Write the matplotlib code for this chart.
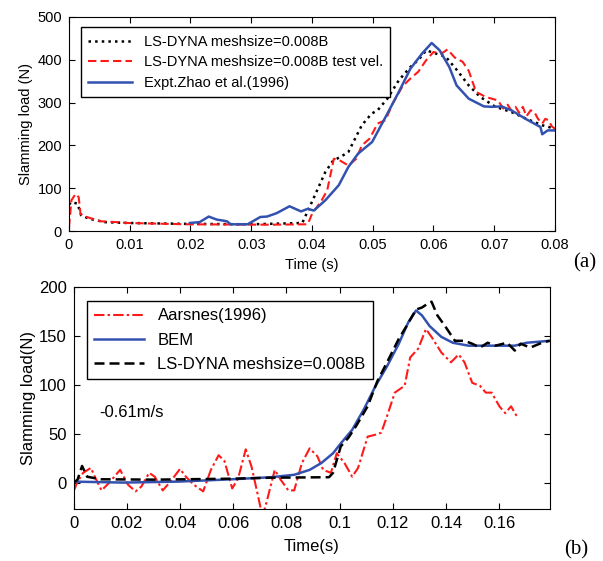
import matplotlib
matplotlib.use("Agg")
import matplotlib.pyplot as plt

plt.rcParams["font.family"] = ["Liberation Sans", "DejaVu Sans"]

# (a) slamming load, Zhao et al. wedge
t_expt = [0.0199, 0.0215, 0.0230, 0.0243, 0.0260, 0.0266, 0.0294, 0.0315, 0.0326, 0.0342,
          0.0363, 0.0382, 0.0393, 0.0403, 0.0422, 0.0444, 0.0460, 0.0476, 0.0499, 0.0524,
          0.0543, 0.0562, 0.0581, 0.0597, 0.0610, 0.0626, 0.0638, 0.0658, 0.0683, 0.0696,
          0.0712, 0.0728, 0.0754, 0.0776, 0.0779, 0.0788, 0.0800]
f_expt = [19, 21, 34, 27, 23, 16, 16, 33, 34, 42,
          58, 46, 52, 48, 72, 107, 150, 181, 208, 274,
          325, 379, 414, 439, 422, 383, 340, 309, 291, 290,
          291, 282, 260, 243, 226, 235, 235]

t_dyna = [0.0, 0.0004, 0.0014, 0.0020, 0.0033, 0.0059, 0.0097, 0.0193, 0.0301, 0.0384,
          0.0396, 0.0422, 0.0435, 0.0447, 0.0460, 0.0482, 0.0498, 0.0508, 0.0524, 0.0543,
          0.0562, 0.0575, 0.0588, 0.0600, 0.0620, 0.0639, 0.0658, 0.0677, 0.0702, 0.0728,
          0.0753, 0.0779, 0.0800]
f_dyna = [62, 68, 64, 37, 29, 21, 19, 17, 16, 19,
          56, 138, 165, 173, 185, 247, 274, 282, 309, 352,
          383, 399, 422, 416, 407, 375, 340, 313, 290, 278,
          262, 247, 239]

t_vel = [0.0, 0.0004, 0.0011, 0.0016, 0.0019, 0.0027, 0.0052, 0.0078, 0.0097, 0.0193,
         0.0333, 0.0393, 0.0400, 0.0416, 0.0425, 0.0436, 0.0447, 0.0460, 0.0473, 0.0482,
         0.0495, 0.0508, 0.0521, 0.0533, 0.0549, 0.0562, 0.0575, 0.0588, 0.0600, 0.0613,
         0.0623, 0.0635, 0.0648, 0.0658, 0.0670, 0.0686, 0.0696, 0.0706, 0.0715, 0.0722,
         0.0728, 0.0735, 0.0741, 0.0747, 0.0753, 0.0760, 0.0766, 0.0772, 0.0779, 0.0784,
         0.0789, 0.0795, 0.0800]
f_vel = [9, 72, 87, 79, 40, 34, 23, 21, 19, 16,
         15, 16, 40, 72, 95, 169, 164, 153, 169, 200,
         216, 251, 259, 298, 338, 356, 372, 399, 418, 414,
         424, 405, 395, 374, 325, 313, 309, 305, 286, 295,
         282, 290, 276, 290, 268, 282, 278, 262, 251, 262,
         259, 244, 239]

# (b) slamming load at -0.61 m/s
t_aar = [0.0, 0.0015, 0.0036, 0.0065, 0.0080, 0.0105, 0.0131, 0.0175, 0.0204, 0.0233,
         0.0255, 0.0284, 0.0305, 0.0335, 0.0364, 0.0400, 0.0422, 0.0451, 0.0487, 0.0516,
         0.0545, 0.0567, 0.0596, 0.0618, 0.0647, 0.0669, 0.0691, 0.0710, 0.0727, 0.0756,
         0.0778, 0.0807, 0.0829, 0.0858, 0.0887, 0.0916, 0.0938, 0.0967, 0.0989, 0.1018,
         0.1047, 0.1069, 0.1105, 0.1135, 0.1156, 0.1178, 0.1207, 0.1244, 0.1265, 0.1295,
         0.1324, 0.1345, 0.1382, 0.1418, 0.1447, 0.1469, 0.1498, 0.1527, 0.1549, 0.1571,
         0.1600, 0.1622, 0.1644, 0.1665]
f_aar = [-9, 1, 10, 15, 6, -8, -1, 13, -2, -9,
         -4, 10, 6, -8, 1, 14, 6, -2, -9, 13,
         28, 22, -6, 4, 34, 16, -11, -35, -18, 13,
         3, -8, -8, 20, 35, 27, 13, 10, 30, 20,
         6, 15, 47, 49, 51, 68, 92, 99, 128, 137,
         157, 149, 133, 123, 131, 123, 102, 99, 92, 92,
         78, 71, 78, 68]

t_bem = [0.0, 0.0189, 0.0393, 0.0596, 0.0742, 0.0829, 0.0887, 0.0931, 0.0975, 0.1004,
         0.1047, 0.1091, 0.1135, 0.1178, 0.1222, 0.1258, 0.1287, 0.1309, 0.1338, 0.1382,
         0.1425, 0.1484, 0.1585, 0.1658, 0.1702, 0.1789]
f_bem = [1, 0, 1, 3.4, 5.5, 8, 13, 20, 30, 40,
         54, 75, 99, 119, 142, 164, 176, 171, 160, 149,
         143, 140, 140, 140, 143, 145]

t_ls = [0.0, 0.0015, 0.0032, 0.0051, 0.0102, 0.0305, 0.0596, 0.0742, 0.0960, 0.0975,
        0.1004, 0.1033, 0.1062, 0.1105, 0.1142, 0.1178, 0.1222, 0.1251, 0.1287, 0.1309,
        0.1331, 0.1345, 0.1367, 0.1396, 0.1433, 0.1469, 0.1498, 0.1527, 0.1556, 0.1585,
        0.1629, 0.1658, 0.1680, 0.1716, 0.1760, 0.1789]
f_ls = [0, 3, 17, 6, 3.4, 3, 4, 5, 5.5, 10,
        37, 46, 58, 78, 104, 123, 147, 160, 177, 179,
        183, 185, 171, 160, 145, 145, 142, 138, 143, 140,
        143, 135, 142, 138, 143, 145]

blue = "#3352b0"
red = "#ff1a1a"

fig = plt.figure(figsize=(6.03, 5.61), dpi=100)

# ---- (a)
ax1 = fig.add_axes([0.1144, 0.588, 0.806, 0.382])
ax1.plot(t_dyna, f_dyna, color="black", linestyle=":", lw=1.8, label="LS-DYNA meshsize=0.008B")
ax1.plot(t_vel, f_vel, color=red, linestyle=(0, (4, 2)), lw=1.5, label="LS-DYNA meshsize=0.008B test vel.")
ax1.plot(t_expt, f_expt, color=blue, lw=1.8, label="Expt.Zhao et al.(1996)")
ax1.set_xlim(0, 0.08)
ax1.set_ylim(0, 500)
ax1.set_xticks([0, 0.01, 0.02, 0.03, 0.04, 0.05, 0.06, 0.07, 0.08])
ax1.set_xticklabels(["0", "0.01", "0.02", "0.03", "0.04", "0.05", "0.06", "0.07", "0.08"])
ax1.set_yticks([0, 100, 200, 300, 400, 500])
ax1.tick_params(direction="in", top=True, right=True, labelsize=10.5, length=4, pad=5)
ax1.set_xlabel("Time (s)", fontsize=10.5, labelpad=4)
ax1.set_ylabel("Slamming load (N)", fontsize=10.5, labelpad=3)
leg1 = ax1.legend(loc="upper left", bbox_to_anchor=(0.01, 0.985), fontsize=10.5, handlelength=3.0,
                  fancybox=False, edgecolor="black", framealpha=1, borderpad=0.5, labelspacing=0.45)
leg1.get_frame().set_linewidth(1.0)
fig.text(0.97, 0.532, "(a)", fontsize=15, family="Liberation Serif", ha="center", va="center")

# ---- (b)
ax2 = fig.add_axes([0.122, 0.0927, 0.790, 0.3957])
ax2.plot(t_aar, f_aar, color=red, linestyle=(0, (5, 1.5, 1.2, 1.5)), lw=1.5, label="Aarsnes(1996)")
ax2.plot(t_bem, f_bem, color=blue, lw=1.8, label="BEM")
ax2.plot(t_ls, f_ls, color="black", linestyle=(0, (4, 2)), lw=1.8, label="LS-DYNA meshsize=0.008B")
ax2.set_xlim(0, 0.179)
ax2.set_ylim(-27, 200)
ax2.set_xticks([0, 0.02, 0.04, 0.06, 0.08, 0.1, 0.12, 0.14, 0.16])
ax2.set_xticklabels(["0", "0.02", "0.04", "0.06", "0.08", "0.1", "0.12", "0.14", "0.16"])
ax2.set_yticks([0, 50, 100, 150, 200])
ax2.tick_params(direction="in", top=True, right=True, labelsize=12, length=4, pad=5)
ax2.set_xlabel("Time(s)", fontsize=12, labelpad=6)
ax2.set_ylabel("Slamming load(N)", fontsize=12, labelpad=2)
leg2 = ax2.legend(loc="upper left", bbox_to_anchor=(0.01, 0.975), fontsize=12, handlelength=3.0,
                  fancybox=False, edgecolor="black", framealpha=1, borderpad=0.45, labelspacing=0.55)
leg2.get_frame().set_linewidth(1.0)
ax2.text(0.0095, 72, "-0.61m/s", fontsize=12, va="center")
fig.text(0.955, 0.02, "(b)", fontsize=15, family="Liberation Serif", ha="center", va="center")

fig.savefig("out.png", dpi=100)
